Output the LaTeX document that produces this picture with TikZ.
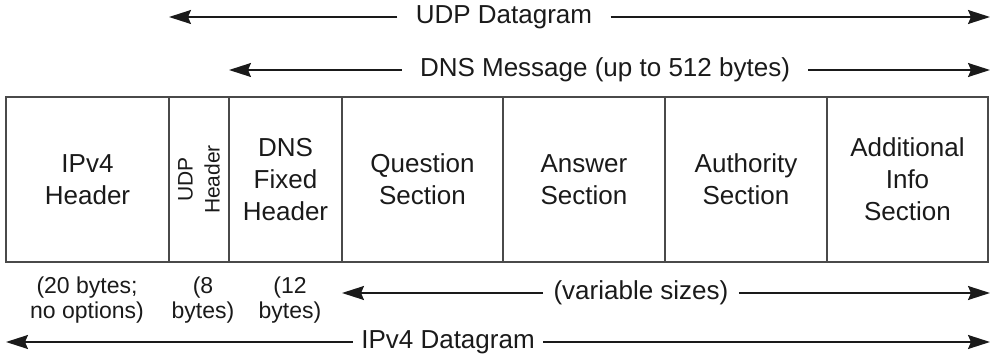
\documentclass[tikz,border=0pt]{standalone}
\usepackage{fontspec}
\setmainfont{Liberation Sans}
\usetikzlibrary{arrows.meta,positioning}
\definecolor{Ink}{HTML}{1A1A1A}
\definecolor{Edge}{HTML}{4A4A4A}
\tikzset{
  sect/.style={
    draw=Edge, line width=.8pt, outer sep=0pt, inner sep=2pt,
    minimum height=82.5pt, align=center, text=Ink,
    font=\fontsize{13}{16}\selectfont
  },
  span/.style={font=\fontsize{13}{16}\selectfont,text=Ink,inner xsep=9pt,inner ysep=0pt},
  size/.style={font=\fontsize{11.5}{12.5}\selectfont,text=Ink,align=center,inner sep=0pt},
  arr/.style={-{Stealth[length=11pt,width=7pt,inset=1.5pt]},line width=.8pt,draw=Ink}
}
\begin{document}
\begin{tikzpicture}[x=0.5pt,y=-0.5pt,node distance=0pt]
  \useasboundingbox (0,0) rectangle (992,358);
  % the packet, left to right
  \node[sect,minimum width=81.5pt,anchor=north west] (ipv4) at (6,97) {IPv4\\Header};
  \node[sect,minimum width=30pt,right=of ipv4] (udp) {};
  \node[sect,minimum width=56.5pt,right=of udp] (dnsfix) {DNS\\Fixed\\Header};
  \node[sect,minimum width=80.5pt,right=of dnsfix] (quest) {Question\\Section};
  \node[sect,minimum width=81pt,right=of quest] (answer) {Answer\\Section};
  \node[sect,minimum width=81pt,right=of answer] (auth) {Authority\\Section};
  \node[sect,minimum width=80.5pt,right=of auth] (addl) {Additional\\Info\\Section};
  \node[rotate=90,align=center,text=Ink,inner sep=0pt,font=\fontsize{10.5}{13.5}\selectfont] (udptxt) at (udp) {UDP\\Header};
  % spans above
  \node[span] (udpdg) at (504,17) {UDP Datagram};
  \coordinate (udpL) at (udp.west |- udpdg);
  \coordinate (udpR) at ([xshift=1pt]addl.east |- udpdg);
  \draw[arr] (udpdg) -- (udpL);
  \draw[arr] (udpdg) -- (udpR);
  \node[span] (dnsmsg) at (605,70) {DNS Message (up to 512 bytes)};
  \coordinate (dnsL) at (dnsfix.west |- dnsmsg);
  \coordinate (dnsR) at ([xshift=1pt]addl.east |- dnsmsg);
  \draw[arr] (dnsmsg) -- (dnsL);
  \draw[arr] (dnsmsg) -- (dnsR);
  % sizes and span below
  \node[size] (ipsz) at (87,300.5) {(20 bytes;\\no options)};
  \node[size] (udpsz) at (203,300.5) {(8\\bytes)};
  \node[size] (dnssz) at (290,300.5) {(12\\bytes)};
  \node[span,inner xsep=5pt] (varsz) at (641,293) {(variable sizes)};
  \coordinate (varL) at (quest.west |- varsz);
  \coordinate (varR) at ([xshift=1pt]addl.east |- varsz);
  \draw[arr] (varsz) -- (varL);
  \draw[arr] (varsz) -- (varR);
  \node[span,inner xsep=4pt] (ipdg) at (448,342) {IPv4 Datagram};
  \coordinate (ipL) at (ipv4.west |- ipdg);
  \coordinate (ipR) at ([xshift=1pt]addl.east |- ipdg);
  \draw[arr] (ipdg) -- (ipL);
  \draw[arr] (ipdg) -- (ipR);
\end{tikzpicture}
\end{document}
